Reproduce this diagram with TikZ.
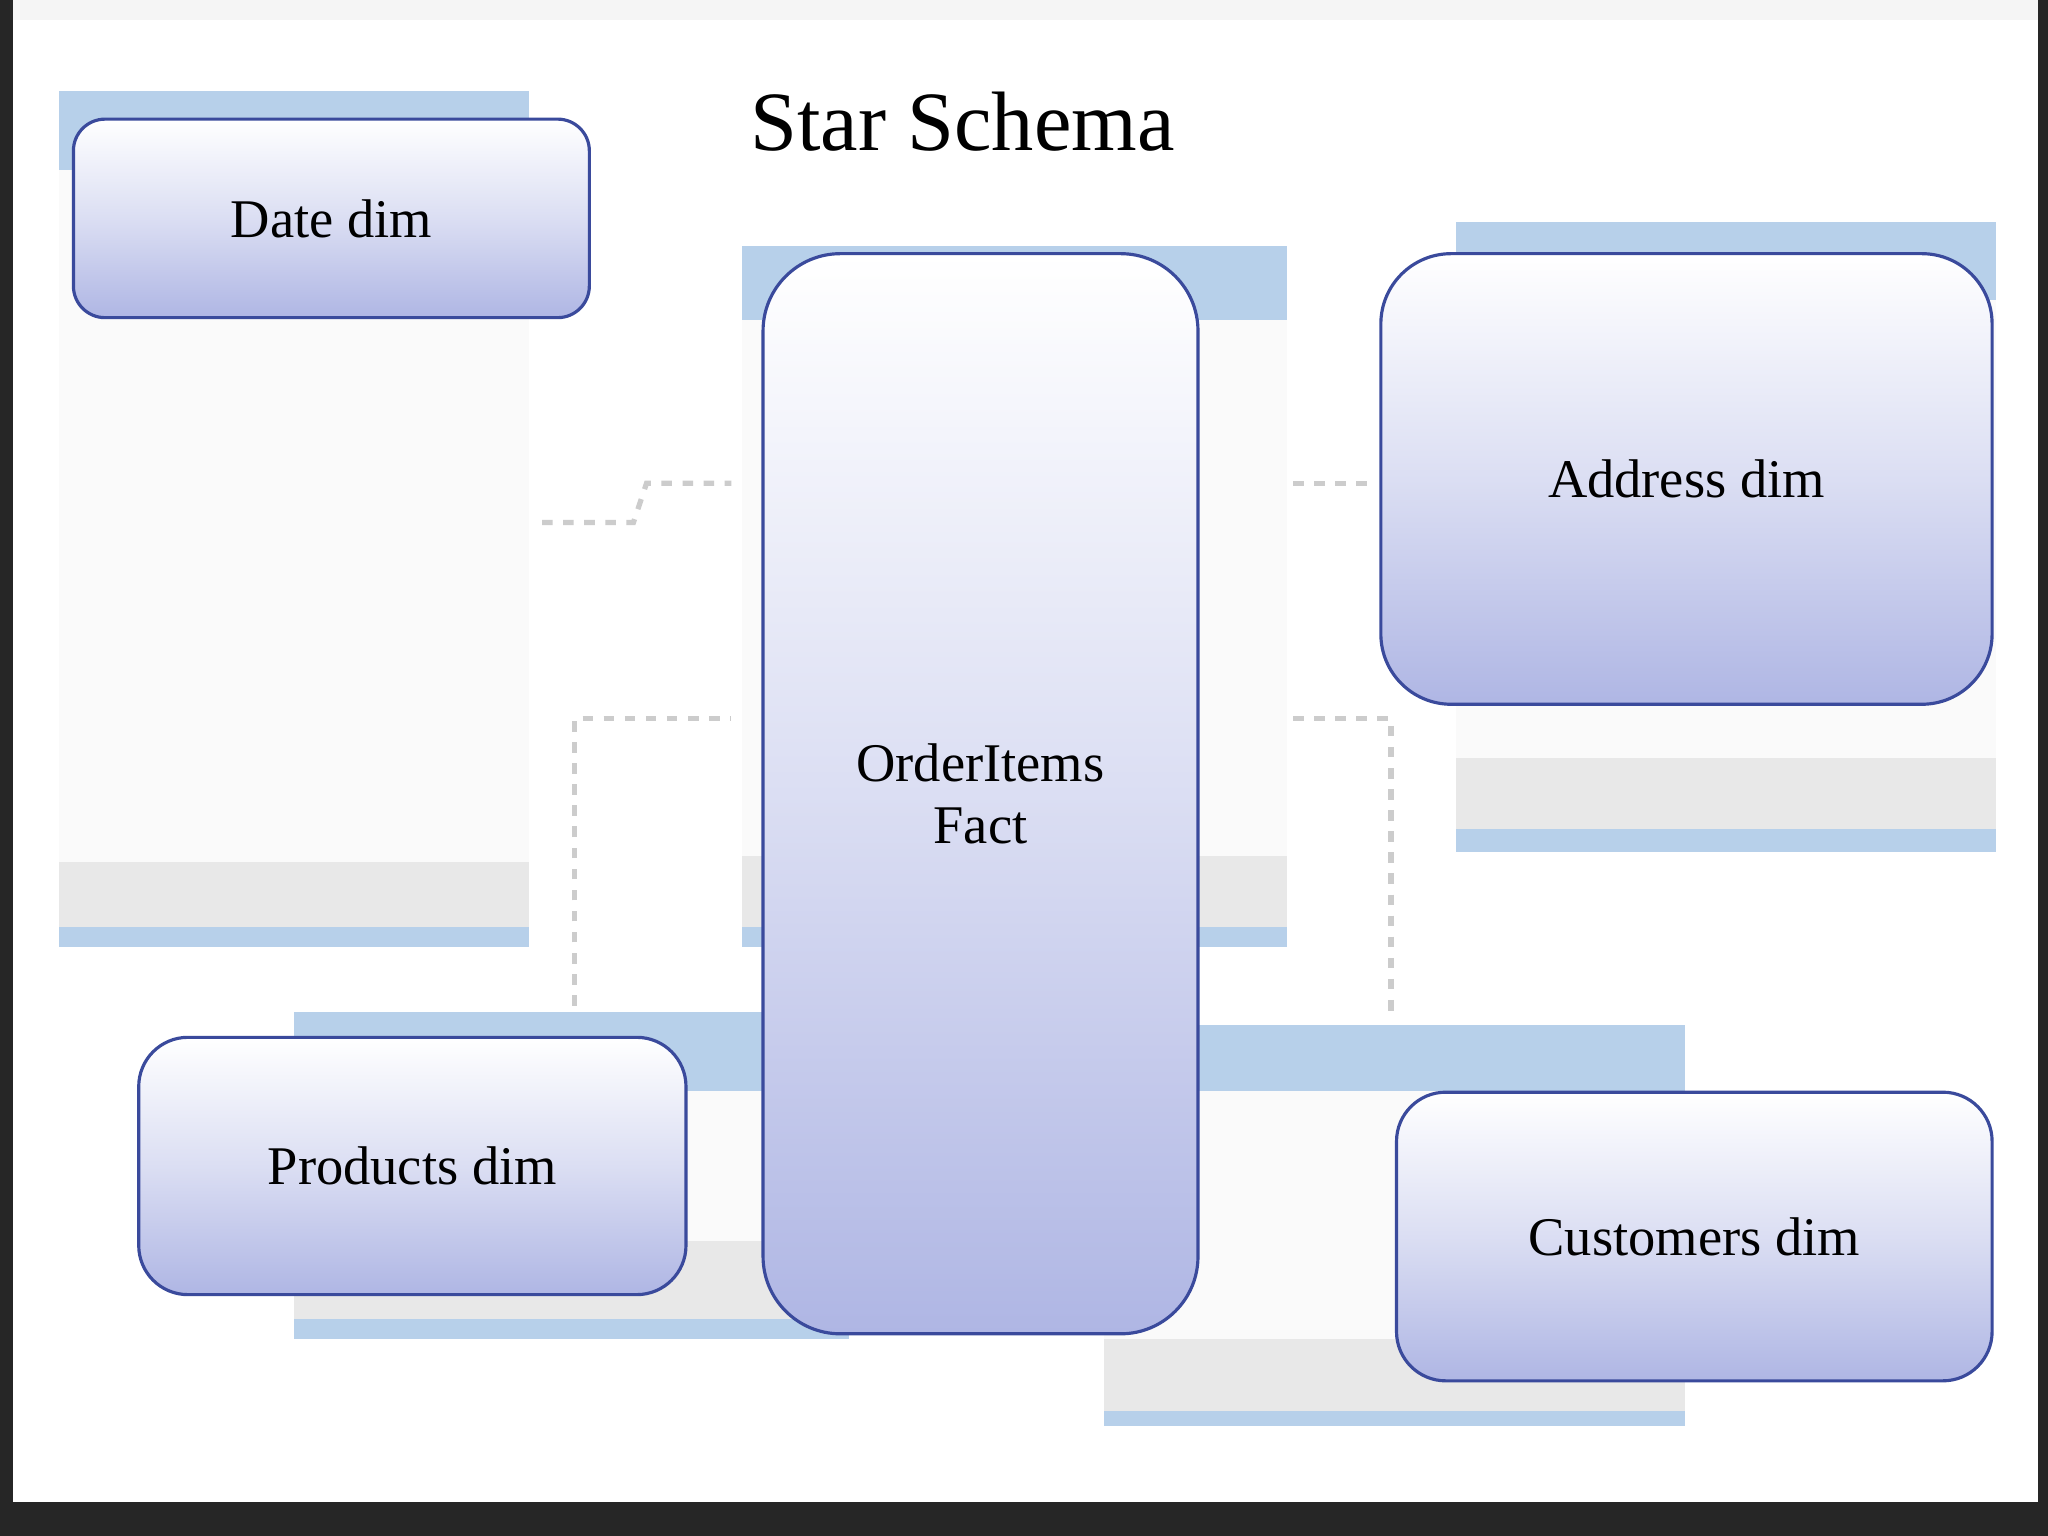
\documentclass[tikz,border=0pt]{standalone}
\usepackage{fontspec}
\setmainfont{Liberation Serif}
\definecolor{lav}{HTML}{AFB6E4}
\definecolor{bordc}{HTML}{3A4A9C}
\definecolor{ghb}{HTML}{B7D0EA}
\begin{document}
\begin{tikzpicture}[x=0.013061cm,y=-0.013061cm,
  dimbox/.style={draw=bordc, line width=0.9pt, top color=white, bottom color=lav, middle color=lav!45, inner sep=0pt, align=center, anchor=north west, font=\fontsize{15.5}{17.5}\selectfont},
  ghost/.style={fill=gray!18},
  ghosthead/.style={fill=ghb},
  ghostlink/.style={gray!40, dashed, line width=1.5pt}]
\useasboundingbox (0,0) rectangle (1568,1176);
\fill[black!85] (0,0) rectangle (1568,1176);
\fill[white] (10,0) rectangle (1560,1150);
\fill[gray!8] (10,0) rectangle (1560,15);
% faint background tables
\fill[ghosthead] (45,70) rectangle (405,130);
\fill[gray!4] (45,130) rectangle (405,660);
\fill[ghost] (45,660) rectangle (405,710);
\fill[ghosthead] (45,710) rectangle (405,725);
\fill[ghosthead] (568,188) rectangle (985,245);
\fill[gray!4] (568,245) rectangle (985,655);
\fill[ghost] (568,655) rectangle (985,710);
\fill[ghosthead] (568,710) rectangle (985,725);
\fill[ghosthead] (1115,170) rectangle (1528,230);
\fill[gray!4] (1115,230) rectangle (1528,580);
\fill[ghost] (1115,580) rectangle (1528,635);
\fill[ghosthead] (1115,635) rectangle (1528,652);
\fill[ghosthead] (225,775) rectangle (650,835);
\fill[gray!4] (225,835) rectangle (650,950);
\fill[ghost] (225,950) rectangle (650,1010);
\fill[ghosthead] (225,1010) rectangle (650,1025);
\fill[ghosthead] (845,785) rectangle (1290,835);
\fill[gray!4] (845,835) rectangle (1290,1025);
\fill[ghost] (845,1025) rectangle (1290,1080);
\fill[ghosthead] (845,1080) rectangle (1290,1092);
\draw[ghostlink] (415,400) -- (485,400) -- (495,370) -- (560,370);
\draw[ghostlink] (440,770) -- (440,550) -- (560,550);
\draw[ghostlink] (990,370) -- (1050,370);
\draw[ghostlink] (990,550) -- (1065,550) -- (1065,775);
\node[font=\fontsize{24}{28}\selectfont] (title) at (737,93) {Star Schema};
\node[dimbox, rounded corners=9pt, minimum width=395*0.013061cm, minimum height=152*0.013061cm] (date) at (55,90) {Date dim};
\node[dimbox, rounded corners=22pt, minimum width=333*0.013061cm, minimum height=827*0.013061cm] (fact) at (583,193) {OrderItems\\Fact};
\node[dimbox, rounded corners=20pt, minimum width=468*0.013061cm, minimum height=345*0.013061cm] (addr) at (1056,193) {Address dim};
\node[dimbox, rounded corners=14pt, minimum width=419*0.013061cm, minimum height=197*0.013061cm] (prod) at (105,793) {Products dim};
\node[dimbox, rounded corners=14pt, minimum width=456*0.013061cm, minimum height=221*0.013061cm] (cust) at (1068,835) {Customers dim};
\end{tikzpicture}
\end{document}
